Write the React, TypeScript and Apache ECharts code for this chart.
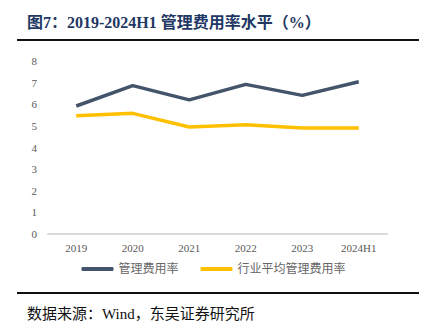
import React, { useEffect, useRef } from "react";
import * as echarts from "echarts";

const categories = ["2019", "2020", "2021", "2022", "2023", "2024H1"];
const companyRate = [5.92, 6.86, 6.2, 6.92, 6.41, 7.04];
const industryRate = [5.47, 5.58, 4.95, 5.05, 4.9, 4.9];
const yTicks = { min: 0, max: 8, interval: 1 };
const seriesNames = ["管理费用率", "行业平均管理费用率"];
const titleText = "图7：2019-2024H1 管理费用率水平（%）";
const sourceText = "数据来源：Wind，东吴证券研究所";

const serif = "'Liberation Serif', 'Times New Roman', 'Noto Sans CJK SC', serif";

export default function App() {
  const ref = useRef<HTMLDivElement>(null);
  useEffect(() => {
    if (!ref.current) return;
    const chart = echarts.init(ref.current, null, { renderer: "svg" });
    chart.setOption({
      animation: false,
      backgroundColor: "#ffffff",
      grid: { left: 48, right: 40, top: 61, bottom: 90 },
      xAxis: {
        type: "category",
        data: categories,
        boundaryGap: true,
        axisLine: { show: true, lineStyle: { color: "#d9d9d9", width: 2 } },
        axisTick: { show: false },
        axisLabel: { color: "#595959", fontFamily: serif, fontSize: 11, margin: 8 },
      },
      yAxis: {
        type: "value",
        min: yTicks.min,
        max: yTicks.max,
        interval: yTicks.interval,
        axisLine: { show: false },
        axisTick: { show: false },
        splitLine: { show: false },
        axisLabel: { color: "#595959", fontFamily: serif, fontSize: 11, margin: 11 },
      },
      legend: {
        left: "center",
        top: 258,
        icon: "roundRect",
        itemWidth: 32,
        itemHeight: 4,
        itemGap: 22,
        textStyle: { color: "#666666", fontFamily: serif, fontSize: 12 },
        data: seriesNames,
      },
      series: [
        {
          name: seriesNames[0],
          type: "line",
          data: companyRate,
          symbol: "none",
          lineStyle: { color: "#44546a", width: 3.5 },
          itemStyle: { color: "#44546a" },
        },
        {
          name: seriesNames[1],
          type: "line",
          data: industryRate,
          symbol: "none",
          lineStyle: { color: "#ffc000", width: 3.5 },
          itemStyle: { color: "#ffc000" },
        },
      ],
      graphic: [
        {
          type: "text",
          left: 27,
          top: 14,
          style: {
            text: titleText,
            fill: "#1f3864",
            font: `bold 16px ${serif}`,
          },
        },
        {
          type: "line",
          shape: { x1: 17, y1: 40, x2: 419, y2: 40 },
          style: { stroke: "#111111", lineWidth: 2 },
        },
        {
          type: "line",
          shape: { x1: 17, y1: 293, x2: 419, y2: 293 },
          style: { stroke: "#111111", lineWidth: 2 },
        },
        {
          type: "text",
          left: 27,
          top: 306,
          style: {
            text: sourceText,
            fill: "#111111",
            font: `15px ${serif}`,
          },
        },
      ],
    });
    return () => chart.dispose();
  }, []);
  return (
    <div
      ref={ref}
      style={{ position: "fixed", left: 0, top: 0, width: 427, height: 324 }}
    />
  );
}
